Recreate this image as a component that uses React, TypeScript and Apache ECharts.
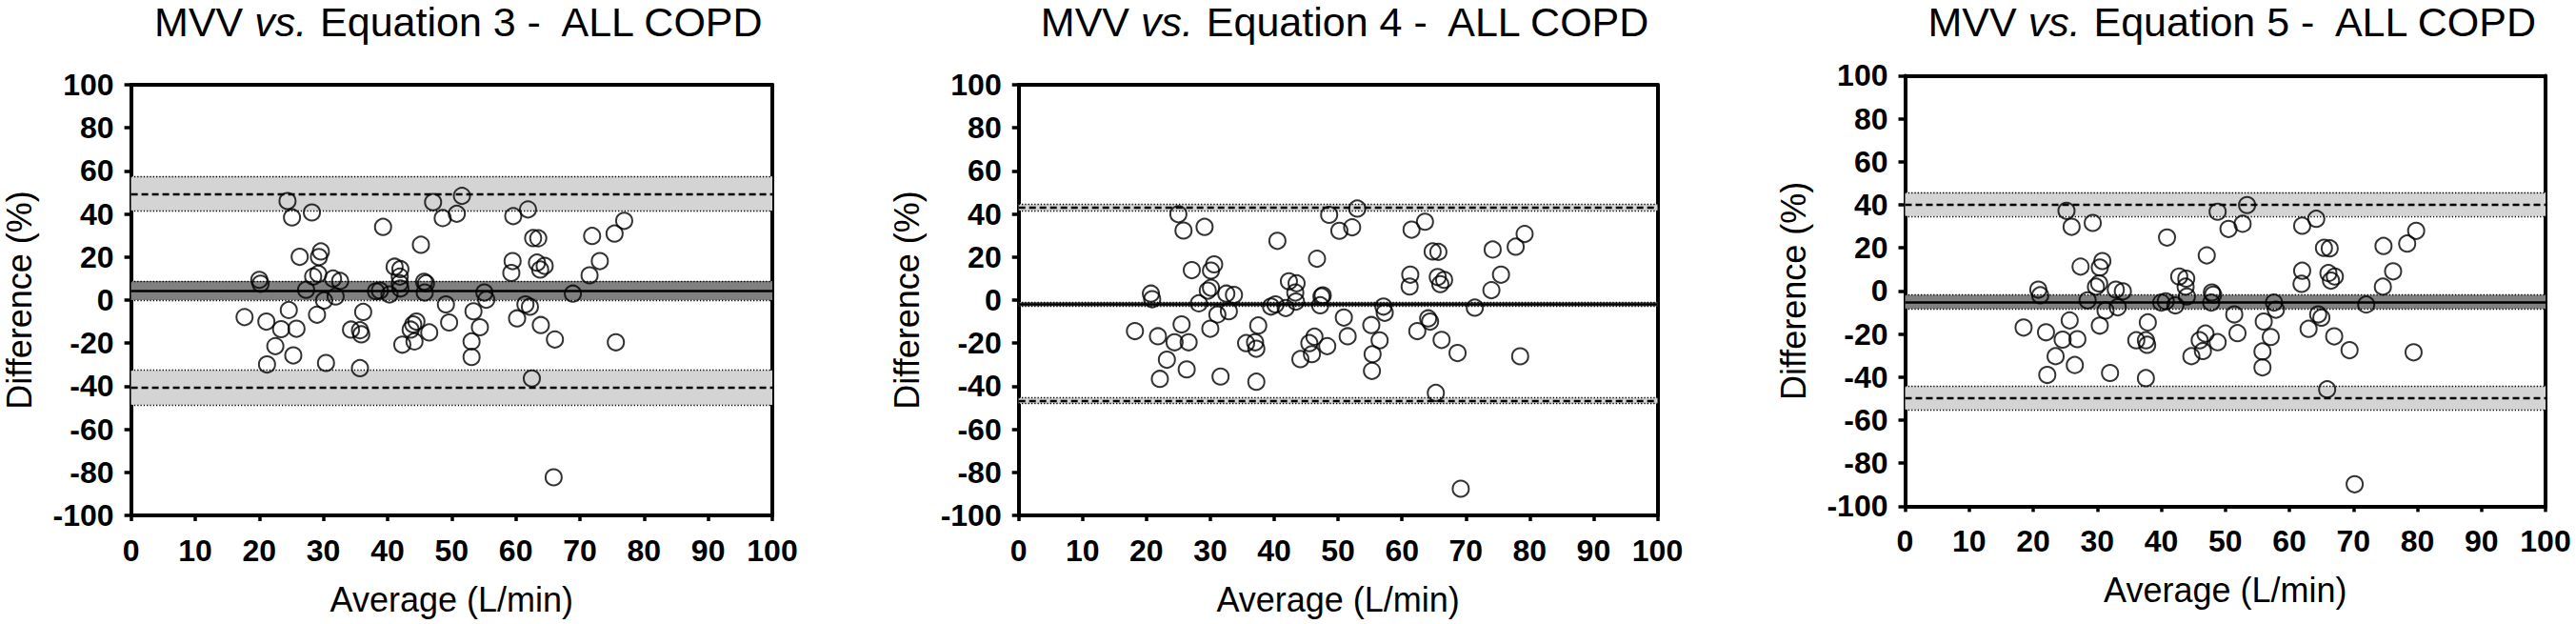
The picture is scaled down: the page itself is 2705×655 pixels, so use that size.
import React, { useEffect, useRef } from "react";
import * as echarts from "echarts";

// ---------- data ----------
const eq3Avg = [17.7, 20.0, 20.2, 21.1, 21.2, 22.5, 23.4, 24.4, 24.6, 25.1, 25.3, 25.8, 26.3, 27.3, 28.2, 28.4, 29.0, 29.3, 29.6, 29.2, 30.1, 30.4, 31.5, 31.9, 32.6, 34.3, 35.7, 35.9, 35.7, 36.2, 38.2, 38.8, 39.3, 40.3, 41.1, 42.0, 41.9, 41.9, 42.0, 42.3, 43.6, 44.0, 44.2, 44.5, 45.2, 45.7, 46.0, 45.8, 46.5, 47.1, 48.6, 49.1, 49.6, 50.8, 51.6, 53.1, 53.1, 53.4, 54.4, 55.1, 55.4, 59.3, 59.5, 59.6, 60.2, 61.5, 61.9, 62.2, 62.5, 62.7, 63.5, 63.3, 63.8, 63.9, 64.5, 66.1, 65.9, 68.9, 71.5, 71.9, 73.1, 75.4, 75.6, 76.9];
const eq3Diff = [-7.9, 9.4, 7.6, -10.0, -29.9, -21.4, -13.5, 46.0, -4.6, 38.4, -25.7, -13.3, 20.1, 4.8, 40.7, 10.9, -6.8, 20.0, 22.6, 12.2, -0.2, -29.2, 10.0, 1.7, 8.9, -13.7, -14.0, -15.9, -31.6, -5.5, 4.1, 4.4, 34.0, 2.6, 15.5, 14.4, 10.9, 7.8, 5.4, -20.7, -13.7, -11.3, -19.2, -10.0, 25.7, 8.5, 7.8, 3.5, -15.0, 45.5, 38.1, -2.0, -10.4, 40.1, 48.4, -19.2, -26.4, -5.2, -12.6, 3.5, 0.2, 12.6, 18.1, 39.0, -8.5, -2.0, 42.1, -3.1, -36.4, 28.8, 28.7, 17.4, 14.2, -11.6, 15.9, -18.3, -82.3, 3.0, 11.5, 29.8, 18.1, 30.9, -19.6, 36.8];

const eq4Avg = [18.2, 20.7, 20.9, 21.8, 22.1, 23.2, 24.4, 25.0, 25.5, 25.8, 26.3, 26.6, 27.1, 28.2, 29.1, 29.6, 30.1, 30.1, 30.6, 30.0, 31.1, 31.6, 32.5, 32.9, 33.7, 35.6, 37.0, 37.2, 37.5, 37.2, 39.5, 40.2, 40.5, 41.8, 42.3, 43.5, 43.3, 43.4, 44.1, 45.5, 45.9, 46.3, 46.7, 47.4, 47.6, 47.2, 48.3, 48.6, 50.2, 50.9, 51.5, 52.2, 53.0, 55.2, 55.4, 55.3, 56.5, 57.1, 57.3, 61.3, 61.2, 61.5, 62.4, 63.6, 64.1, 64.4, 64.8, 65.7, 65.6, 66.0, 66.6, 65.3, 66.2, 68.7, 69.2, 71.4, 74.0, 74.2, 75.5, 77.8, 78.5, 79.2];
const eq4Diff = [-14.4, 3.0, 0.4, -16.8, -36.6, -27.7, -19.6, 39.9, -11.3, 32.3, -32.2, -19.6, 13.9, -1.5, 34.0, 4.4, 5.7, 13.7, 16.6, -13.3, -6.7, -35.5, 3.0, -5.2, 2.4, -20.0, -19.6, -22.6, -11.8, -37.9, -3.0, -2.0, 27.5, -3.7, 8.7, 7.8, 3.5, -0.7, -27.4, -20.0, -25.1, -17.0, 19.2, 1.7, 2.2, -2.4, -21.4, 39.6, 32.2, -8.1, -16.8, 33.8, 42.5, -11.6, -25.1, -32.9, -18.7, -3.0, -5.9, 11.8, 6.3, 32.7, -14.4, 36.4, -8.5, -10.0, 22.6, 22.4, 10.7, 7.4, 9.4, -43.1, -18.5, -24.6, -87.6, -3.5, 4.6, 23.5, 11.8, 24.8, -26.1, 30.7];

const eq5Avg = [18.5, 20.8, 21.1, 22.0, 22.2, 23.5, 24.6, 25.2, 25.7, 26.0, 26.5, 26.9, 27.4, 28.5, 29.3, 29.8, 30.3, 30.4, 30.8, 30.4, 31.3, 32.0, 32.9, 33.2, 34.0, 36.1, 37.6, 37.8, 37.9, 37.6, 40.0, 40.7, 40.9, 42.2, 42.8, 43.9, 43.8, 44.0, 44.7, 46.0, 46.5, 46.9, 47.1, 47.9, 48.1, 47.8, 48.8, 48.8, 50.5, 51.4, 51.9, 52.7, 53.4, 56.0, 55.8, 55.8, 57.1, 57.6, 57.9, 62.0, 61.9, 62.0, 63.0, 64.2, 64.5, 65.0, 65.4, 66.3, 66.1, 66.5, 67.1, 65.9, 67.0, 69.4, 70.2, 72.0, 74.6, 74.7, 76.2, 78.4, 79.4, 79.8];
const eq5Diff = [-17.0, 0.6, -2.0, -19.2, -39.0, -30.3, -22.6, 37.2, -13.7, 29.8, -34.4, -22.4, 11.3, -4.4, 31.6, 2.0, 3.5, 10.9, 13.9, -16.1, -9.1, -38.1, 0.6, -7.6, -0.2, -22.9, -22.9, -25.0, -14.6, -40.5, -5.4, -4.8, 24.8, -6.7, 6.7, 5.7, 2.0, -2.6, -30.3, -22.9, -27.9, -19.8, 16.5, -0.7, -1.7, -5.4, -23.8, 36.8, 28.8, -10.9, -19.6, 31.2, 39.9, -14.2, -28.1, -35.5, -21.4, -5.4, -8.7, 9.4, 3.3, 30.3, -17.6, 33.5, -10.9, -12.4, 20.0, 19.8, 8.3, 4.8, 6.7, -45.7, -21.1, -27.5, -89.8, -6.3, 2.0, 20.9, 9.1, 22.0, -28.5, 27.9];

// [bias, bias CI low, bias CI high, upper LoA, upper CI low, upper CI high, lower LoA, lower CI low, lower CI high]
const eq3Lines = [4.4, 0.0, 8.9, 49.4, 41.5, 57.5, -40.5, -48.7, -32.6];
const eq4Lines = [-1.9, -2.9, -0.9, 43.1, 41.6, 44.6, -46.6, -48.1, -45.4];
const eq5Lines = [-5.4, -8.3, -1.8, 40.3, 34.8, 45.7, -49.5, -55.1, -44.2];

const equationNames = ["3", "4", "5"];
const xTicks = { min: 0, max: 100, step: 10 };
const yTicks = { min: -100, max: 100, step: 20 };
const xTitle = "Average (L/min)";
const yTitle = "Difference (%)";

// ---------- layout (pixels) ----------
const grids = [
  { left: 137.6, width: 673.4, top: 89, height: 452 },
  { left: 1069.7, width: 670.8, top: 89, height: 452 },
  { left: 2000.5, width: 672.5, top: 79.4, height: 452 },
];

const FONT = "'Liberation Sans', Arial, Helvetica, sans-serif";

export default function App() {
  const ref = useRef<HTMLDivElement>(null);

  useEffect(() => {
    if (!ref.current) return;
    const chart = echarts.init(ref.current, undefined, { renderer: "svg" });

    const panels = [
      { avg: eq3Avg, diff: eq3Diff, lines: eq3Lines },
      { avg: eq4Avg, diff: eq4Diff, lines: eq4Lines },
      { avg: eq5Avg, diff: eq5Diff, lines: eq5Lines },
    ];

    const gridOpts = grids.map((g) => ({ ...g, containLabel: false, show: false }));

    const xAxes: any[] = [];
    const yAxes: any[] = [];
    const series: any[] = [];
    const titles: any[] = [];

    panels.forEach((p, i) => {
      const axisLine = { show: true, onZero: false, lineStyle: { color: "#000", width: 4 } };
      xAxes.push({
        type: "value",
        gridIndex: i,
        min: xTicks.min,
        max: xTicks.max,
        interval: xTicks.step,
        position: "bottom",
        axisLine,
        axisTick: { show: true, length: 6, lineStyle: { color: "#000", width: 3.5 } },
        axisLabel: { color: "#000", fontFamily: FONT, fontWeight: "bold", fontSize: 32, margin: 21 },
        splitLine: { show: false },
        name: xTitle,
        nameLocation: "middle",
        nameGap: 70,
        nameTextStyle: { color: "#000", fontFamily: FONT, fontSize: 36 },
      });
      xAxes.push({
        type: "value",
        gridIndex: i,
        min: xTicks.min,
        max: xTicks.max,
        position: "top",
        axisLine,
        axisTick: { show: false },
        axisLabel: { show: false },
        splitLine: { show: false },
      });
      yAxes.push({
        type: "value",
        gridIndex: i,
        min: yTicks.min,
        max: yTicks.max,
        interval: yTicks.step,
        position: "left",
        axisLine,
        axisTick: { show: true, length: 7, lineStyle: { color: "#000", width: 3.5 } },
        axisLabel: { color: "#000", fontFamily: FONT, fontWeight: "bold", fontSize: 32, margin: 18 },
        splitLine: { show: false },
        name: yTitle,
        nameLocation: "middle",
        nameGap: 99,
        nameRotate: 90,
        nameTextStyle: { color: "#000", fontFamily: FONT, fontSize: 36 },
      });
      yAxes.push({
        type: "value",
        gridIndex: i,
        min: yTicks.min,
        max: yTicks.max,
        position: "right",
        axisLine,
        axisTick: { show: false },
        axisLabel: { show: false },
        splitLine: { show: false },
      });

      const L = p.lines;
      const dotted = { color: "#000", width: 1.3, type: [1.3, 2] };
      const dashed = { color: "#000", width: 2.3, type: [7, 4] };
      const solid = { color: "#000", width: 2.5, type: "solid" };
      const ml = (v: number, ls: any) => ({ yAxis: v, lineStyle: ls });

      series.push({
        type: "line",
        xAxisIndex: 2 * i,
        yAxisIndex: 2 * i,
        data: [],
        silent: true,
        z: 1,
        markArea: {
          silent: true,
          data: [
            [{ yAxis: L[4], itemStyle: { color: "#d4d4d4" } }, { yAxis: L[5] }],
            [{ yAxis: L[7], itemStyle: { color: "#d4d4d4" } }, { yAxis: L[8] }],
            [{ yAxis: L[1], itemStyle: { color: "#808080" } }, { yAxis: L[2] }],
          ],
        },
        markLine: {
          silent: true,
          symbol: ["none", "none"],
          label: { show: false },
          data: [
            ml(L[1], dotted), ml(L[2], dotted),
            ml(L[4], dotted), ml(L[5], dotted),
            ml(L[7], dotted), ml(L[8], dotted),
            ml(L[0], solid), ml(L[3], dashed), ml(L[6], dashed),
          ],
        },
      });

      series.push({
        type: "scatter",
        xAxisIndex: 2 * i,
        yAxisIndex: 2 * i,
        z: 5,
        symbol: "circle",
        symbolSize: 17,
        itemStyle: { color: "rgba(0,0,0,0)", borderColor: "#000", borderWidth: 2 },
        data: p.avg.map((x, k) => [x, p.diff[k]]),
      });

      const g = grids[i];
      titles.push({
        left: g.left + g.width / 2 + 8,
        top: 1,
        padding: 0,
        textAlign: "center",
        text: `{a|MVV }{b|vs.}{a| Equation ${equationNames[i]} -  ALL COPD}`,
        textStyle: {
          fontWeight: "normal",
          fontFamily: FONT,
          fontSize: 43,
          rich: {
            a: { fontFamily: FONT, fontSize: 43, fontWeight: "normal", color: "#000" },
            b: { fontFamily: FONT, fontSize: 43, fontWeight: "normal", fontStyle: "italic", color: "#000" },
          },
        },
      });
    });

    chart.setOption({
      animation: false,
      backgroundColor: "#fff",
      title: titles,
      grid: gridOpts,
      xAxis: xAxes,
      yAxis: yAxes,
      series,
    });

    return () => chart.dispose();
  }, []);

  return (
    <div
      ref={ref}
      style={{ position: "absolute", left: 0, top: 0, width: 2705, height: 655, background: "#fff" }}
    />
  );
}
